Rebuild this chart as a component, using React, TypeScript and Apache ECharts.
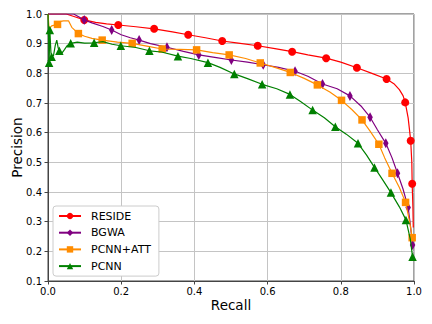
import React, { useEffect, useRef } from "react";
import * as echarts from "echarts";

const seriesNames = ["RESIDE", "BGWA", "PCNN+ATT", "PCNN"];
const seriesColors = ["#ff0000", "#800080", "#ff8c00", "#008000"];
const seriesSymbols = ["circle", "diamond", "rect", "triangle"];

const xTicks = [0, 0.2, 0.4, 0.6, 0.8, 1.0];
const yTicks = [0.1, 0.2, 0.3, 0.4, 0.5, 0.6, 0.7, 0.8, 0.9, 1.0];

const resideCurve = [
  [0, 1.0], [0.05, 1.0], [0.075, 0.99], [0.099, 0.98], [0.13, 0.972], [0.16, 0.967], [0.192, 0.963],
  [0.24, 0.957], [0.29, 0.95], [0.34, 0.94], [0.383, 0.93], [0.43, 0.92], [0.476, 0.909], [0.52, 0.902],
  [0.573, 0.893], [0.62, 0.883], [0.667, 0.873], [0.71, 0.862], [0.76, 0.851], [0.8, 0.838], [0.844, 0.819],
  [0.885, 0.8], [0.925, 0.781], [0.945, 0.765], [0.96, 0.745], [0.97, 0.725], [0.976, 0.702], [0.984, 0.65],
  [0.991, 0.573], [0.994, 0.5], [0.995, 0.428], [0.997, 0.35], [0.998, 0.28],
];
const resideMarks = [
  [0.099, 0.98], [0.192, 0.963], [0.29, 0.95], [0.383, 0.93], [0.476, 0.909], [0.573, 0.893], [0.667, 0.873],
  [0.76, 0.851], [0.844, 0.819], [0.925, 0.781], [0.976, 0.702], [0.991, 0.573], [0.995, 0.428],
];

const bgwaCurve = [
  [0, 1.0], [0.07, 1.0], [0.085, 0.99], [0.099, 0.98], [0.12, 0.97], [0.15, 0.958], [0.174, 0.946], [0.2, 0.93],
  [0.225, 0.92], [0.249, 0.912], [0.28, 0.9], [0.325, 0.888], [0.37, 0.874], [0.412, 0.862], [0.46, 0.853],
  [0.501, 0.845], [0.545, 0.838], [0.588, 0.829], [0.63, 0.82], [0.675, 0.807], [0.71, 0.79], [0.75, 0.764],
  [0.79, 0.748], [0.825, 0.724], [0.855, 0.69], [0.88, 0.652], [0.9, 0.61], [0.923, 0.564], [0.94, 0.515],
  [0.955, 0.463], [0.97, 0.41], [0.984, 0.348], [0.99, 0.29], [0.996, 0.221],
];
const bgwaMarks = [
  [0.099, 0.98], [0.174, 0.946], [0.249, 0.912], [0.325, 0.888], [0.412, 0.862], [0.501, 0.845], [0.588, 0.829],
  [0.675, 0.807], [0.75, 0.764], [0.825, 0.724], [0.88, 0.652], [0.923, 0.564], [0.955, 0.463], [0.984, 0.348],
  [0.996, 0.221],
];

const pcnnAttCurve = [
  [0, 1.0], [0.003, 0.95], [0.01, 0.96], [0.026, 0.965], [0.035, 0.975], [0.042, 0.977], [0.056, 0.977],
  [0.065, 0.955], [0.083, 0.934], [0.1, 0.925], [0.12, 0.918], [0.148, 0.912], [0.19, 0.905], [0.23, 0.901],
  [0.27, 0.892], [0.312, 0.882], [0.36, 0.881], [0.406, 0.879], [0.45, 0.87], [0.495, 0.862], [0.54, 0.85],
  [0.58, 0.835], [0.62, 0.82], [0.662, 0.803], [0.7, 0.783], [0.736, 0.761], [0.77, 0.737], [0.802, 0.709],
  [0.83, 0.678], [0.858, 0.643], [0.88, 0.605], [0.904, 0.561], [0.92, 0.515], [0.94, 0.463], [0.96, 0.415],
  [0.977, 0.365], [0.988, 0.3], [0.995, 0.246],
];
const pcnnAttMarks = [
  [0.026, 0.965], [0.083, 0.934], [0.148, 0.912], [0.23, 0.901], [0.312, 0.882], [0.406, 0.879], [0.495, 0.862],
  [0.58, 0.835], [0.662, 0.803], [0.736, 0.761], [0.802, 0.709], [0.858, 0.643], [0.904, 0.561], [0.94, 0.463],
  [0.977, 0.365], [0.995, 0.246],
];

const pcnnCurve = [
  [0, 1.0], [0.002, 0.9], [0.003, 0.83], [0.005, 0.946], [0.008, 0.87], [0.01, 0.856], [0.015, 0.86],
  [0.02, 0.895], [0.024, 0.912], [0.028, 0.885], [0.031, 0.876], [0.038, 0.868], [0.045, 0.88], [0.052, 0.893],
  [0.062, 0.901], [0.08, 0.905], [0.1, 0.902], [0.126, 0.903], [0.15, 0.907], [0.175, 0.898], [0.199, 0.893],
  [0.24, 0.887], [0.277, 0.876], [0.31, 0.872], [0.355, 0.858], [0.39, 0.85], [0.437, 0.836], [0.47, 0.82],
  [0.509, 0.798], [0.545, 0.782], [0.585, 0.763], [0.625, 0.748], [0.661, 0.729], [0.69, 0.705], [0.723, 0.676],
  [0.755, 0.65], [0.785, 0.62], [0.815, 0.595], [0.847, 0.564], [0.87, 0.525], [0.892, 0.483], [0.915, 0.44],
  [0.937, 0.398], [0.96, 0.35], [0.978, 0.306], [0.99, 0.24], [0.996, 0.182],
];
const pcnnMarks = [
  [0.003, 0.836], [0.005, 0.946], [0.01, 0.856], [0.031, 0.876], [0.062, 0.901], [0.126, 0.903], [0.199, 0.893],
  [0.277, 0.876], [0.355, 0.858], [0.437, 0.836], [0.509, 0.798], [0.585, 0.763], [0.661, 0.729], [0.723, 0.676],
  [0.785, 0.62], [0.847, 0.564], [0.892, 0.483], [0.937, 0.398], [0.978, 0.306], [0.996, 0.182],
];

const curves = [resideCurve, bgwaCurve, pcnnAttCurve, pcnnCurve];
const marks = [resideMarks, bgwaMarks, pcnnAttMarks, pcnnMarks];
const markSizes: any[] = [8, [5.5, 10], 7.5, 8.5];

const FONT = "DejaVu Sans";

export default function App() {
  const ref = useRef<HTMLDivElement>(null);
  useEffect(() => {
    if (!ref.current) return;
    const chart = echarts.init(ref.current, null, { renderer: "svg" });
    const series: any[] = [];
    seriesNames.forEach((name, i) => {
      series.push({
        name,
        type: "line",
        data: curves[i],
        showSymbol: false,
        symbol: seriesSymbols[i],
        color: seriesColors[i],
        lineStyle: { color: seriesColors[i], width: 1.2 },
        z: 2 + i,
      });
    });
    seriesNames.forEach((name, i) => {
      series.push({
        name,
        type: "scatter",
        data: marks[i],
        symbol: seriesSymbols[i],
        symbolSize: markSizes[i],
        itemStyle: { color: seriesColors[i], opacity: 1 },
        z: 2 + i,
      });
    });
    chart.setOption({
      animation: false,
      backgroundColor: "#ffffff",
      textStyle: { fontFamily: FONT },
      grid: {
        left: 48,
        right: 18,
        top: 14,
        bottom: 43,
        containLabel: false,
        outerBoundsMode: "none",
        show: true,
        borderColor: "#444",
        borderWidth: 1,
        backgroundColor: "transparent",
      },
      legend: {
        data: seriesNames,
        orient: "vertical",
        left: 53,
        top: 206,
        itemWidth: 22,
        itemHeight: 8,
        itemGap: 4.7,
        padding: [4, 8, 4, 5],
        backgroundColor: "#ffffff",
        borderColor: "#cccccc",
        borderWidth: 1,
        borderRadius: 3,
        textStyle: { fontFamily: FONT, fontSize: 11, color: "#000", lineHeight: 12, padding: [0, 0, 0, 5] },
      },
      xAxis: {
        type: "value",
        min: xTicks[0],
        max: xTicks[xTicks.length - 1],
        interval: 0.2,
        name: "Recall",
        nameLocation: "middle",
        nameGap: 17,
        nameMoveOverlap: false,
        nameTextStyle: { fontFamily: FONT, fontSize: 13.5, color: "#000" },
        axisLine: { show: true, onZero: false, lineStyle: { color: "#444", width: 1 } },
        axisTick: { show: true, length: 3.5, lineStyle: { color: "#444" } },
        axisLabel: {
          fontFamily: FONT,
          fontSize: 10,
          color: "#000",
          margin: 5,
          formatter: (v: number) => v.toFixed(1),
        },
        splitLine: { show: true, lineStyle: { color: "#c4c4c4", width: 1 } },
      },
      yAxis: {
        type: "value",
        min: yTicks[0],
        max: yTicks[yTicks.length - 1],
        interval: 0.1,
        name: "Precision",
        nameLocation: "middle",
        nameGap: 24,
        nameMoveOverlap: false,
        nameTextStyle: { fontFamily: FONT, fontSize: 13.5, color: "#000" },
        axisLine: { show: true, onZero: false, lineStyle: { color: "#444", width: 1 } },
        axisTick: { show: true, length: 3.5, lineStyle: { color: "#444" } },
        axisLabel: {
          fontFamily: FONT,
          fontSize: 10,
          color: "#000",
          margin: 6,
          formatter: (v: number) => v.toFixed(1),
        },
        splitLine: { show: true, lineStyle: { color: "#c4c4c4", width: 1 } },
      },
      series,
    });
    return () => chart.dispose();
  }, []);
  return <div ref={ref} style={{ width: 432, height: 324, margin: -8 }} />;
}
